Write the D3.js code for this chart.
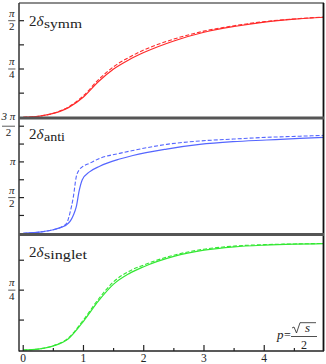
<!DOCTYPE html>
<html>
<head>
<meta charset="utf-8">
<script src="https://cdn.jsdelivr.net/npm/d3@7"></script>
<style>
  html, body { margin: 0; padding: 0; background: #fff; }
  svg { display: block; }
  text { font-family: "Liberation Serif", "DejaVu Serif", serif; fill: #222; }
</style>
</head>
<body>
<div id="chart"></div>
<script>
// phase shifts in units of pi, against p = sqrt(s)/2
var pGrid = [0, 0.25, 0.5, 0.75, 1, 1.25, 1.5, 1.75, 2, 2.5, 3, 3.5, 4, 4.5, 5];
var symmSolid  = [0, 0.005, 0.02, 0.05, 0.105, 0.185, 0.25, 0.297, 0.335, 0.395, 0.44, 0.47, 0.493, 0.508, 0.518];
var symmDashed = [0, 0.005, 0.021, 0.053, 0.112, 0.195, 0.262, 0.309, 0.348, 0.405, 0.446, 0.474, 0.495, 0.509, 0.519];

var antiP      = [0, 0.3, 0.5, 0.65, 0.72, 0.78, 0.83, 0.88, 0.93, 0.98, 1.1, 1.27, 1.6, 1.82, 2.38, 2.93, 3.48, 4.04, 4.59, 5];
var antiSolid  = [0, 0.02, 0.05, 0.09, 0.12, 0.17, 0.25, 0.37, 0.6, 0.75, 0.86, 0.94, 1.04, 1.09, 1.18, 1.245, 1.283, 1.307, 1.33, 1.345];
var antiDashed = [0, 0.02, 0.05, 0.095, 0.14, 0.3, 0.5, 0.79, 0.89, 0.93, 0.98, 1.05, 1.12, 1.16, 1.246, 1.293, 1.32, 1.344, 1.36, 1.372];

var singletSolid  = [0, 0.004, 0.017, 0.047, 0.12, 0.205, 0.275, 0.318, 0.348, 0.391, 0.417, 0.431, 0.438, 0.442, 0.444];
var singletDashed = [0, 0.004, 0.018, 0.05, 0.126, 0.213, 0.285, 0.328, 0.355, 0.396, 0.421, 0.434, 0.44, 0.443, 0.445];

var xMajor = [0, 1, 2, 3, 4];
var xMinor = [0.5, 1.5, 2.5, 3.5, 4.5];

var panels = [
    { name: 'symm', p: pGrid, solid: symmSolid, dashed: symmDashed, color: '#ff2a2a',
      top: 3, zero: 117.3, max: 0.5916,
      ticks: [0.125, 0.25, 0.375, 0.5],
      labels: [{v: 0.25, num: 'π', den: '4'}, {v: 0.5, num: 'π', den: '2'}],
      labelY: 26, subWidth: 38 },
    { name: 'anti', p: antiP, solid: antiSolid, dashed: antiDashed, color: '#5566ff',
      top: 118, zero: 233.3, max: 1.615,
      ticks: [0.25, 0.5, 0.75, 1, 1.25, 1.5],
      labels: [{v: 0.5, num: 'π', den: '2'}, {v: 1, num: 'π', den: null}, {v: 1.5, num: '3 π', den: '2'}],
      labelY: 139, subWidth: 21 },
    { name: 'singlet', p: pGrid, solid: singletSolid, dashed: singletDashed, color: '#33e833',
      top: 235, zero: 350, max: 0.4803,
      ticks: [0.125, 0.25, 0.375],
      labels: [{v: 0.25, num: 'π', den: '4'}],
      labelY: 256.5, subWidth: 43 }
];

var W = 326, H = 364;
var left = 19, right = 324, bottom = 351;

var svg = d3.select('#chart').append('svg')
    .attr('width', W)
    .attr('height', H);

var x = d3.scaleLinear().domain([-0.07, 5]).range([left, right + 0.5]);

panels.forEach(function (pan, i) {
    var y = d3.scaleLinear().domain([0, pan.max]).range([pan.zero, pan.top]);

    svg.append('clipPath')
        .attr('id', 'clip' + i)
        .append('rect')
        .attr('x', left)
        .attr('y', pan.top)
        .attr('width', right - left)
        .attr('height', pan.zero - pan.top + 1);

    var line = d3.line()
        .x(function (d) { return x(d[0]); })
        .y(function (d) { return y(d[1]); })
        .curve(d3.curveMonotoneX);

    var g = svg.append('g').attr('clip-path', 'url(#clip' + i + ')');
    g.append('path')
        .attr('d', line(d3.zip(pan.p, pan.dashed)))
        .attr('fill', 'none')
        .attr('stroke', pan.color)
        .attr('stroke-width', 1.1)
        .attr('stroke-dasharray', '4,2');
    g.append('path')
        .attr('d', line(d3.zip(pan.p, pan.solid)))
        .attr('fill', 'none')
        .attr('stroke', pan.color)
        .attr('stroke-width', 1.2);

    // y ticks (inward)
    svg.append('g').selectAll('line')
        .data(pan.ticks)
        .enter()
        .append('line')
        .attr('x1', left)
        .attr('x2', left + 5)
        .attr('y1', function (d) { return y(d); })
        .attr('y2', function (d) { return y(d); })
        .attr('stroke', '#222')
        .attr('stroke-width', 1.2);

    // fraction tick labels
    pan.labels.forEach(function (lb) {
        var ty = y(lb.v);
        var wide = lb.num.length > 1;
        var cx = wide ? 8.5 : 11.8;
        if (lb.den === null) {
            svg.append('text')
                .attr('x', cx + 1)
                .attr('y', ty + 3.5)
                .attr('text-anchor', 'middle')
                .style('font-size', '11px')
                .style('font-style', 'italic')
                .text(lb.num);
            return;
        }
        svg.append('text')
            .attr('x', cx)
            .attr('y', ty - (wide ? 6 : 4))
            .attr('text-anchor', 'middle')
            .style('font-size', '11px')
            .style('font-style', 'italic')
            .text(lb.num);
        svg.append('line')
            .attr('x1', cx - (wide ? 6.5 : 3.6))
            .attr('x2', cx + (wide ? 6.5 : 3.6))
            .attr('y1', ty)
            .attr('y2', ty)
            .attr('stroke', '#333')
            .attr('stroke-width', 0.8);
        svg.append('text')
            .attr('x', cx)
            .attr('y', ty + 9.5)
            .attr('text-anchor', 'middle')
            .style('font-size', '11px')
            .text(lb.den);
    });

    // panel name
    var t = svg.append('text')
        .attr('x', 29)
        .attr('y', pan.labelY)
        .style('font-size', '15px');
    t.append('tspan').text('2');
    t.append('tspan').style('font-style', 'italic').text('δ');
    svg.append('text')
        .attr('x', 44)
        .attr('y', pan.labelY + 2)
        .attr('textLength', pan.subWidth)
        .attr('lengthAdjust', 'spacingAndGlyphs')
        .style('font-size', '12px')
        .text(pan.name);
});

// frame
svg.append('line').attr('x1', left).attr('x2', right).attr('y1', 3).attr('y2', 3)
    .attr('stroke', '#666').attr('stroke-width', 1.5);
svg.append('line').attr('x1', right - 0.5).attr('x2', right - 0.5).attr('y1', 3).attr('y2', bottom)
    .attr('stroke', '#111').attr('stroke-width', 1.8);
svg.append('line').attr('x1', left).attr('x2', left).attr('y1', 3).attr('y2', bottom + 0.5)
    .attr('stroke', '#333').attr('stroke-width', 1.5);
[118, 234.5].forEach(function (sy) {
    svg.append('line').attr('x1', left).attr('x2', right).attr('y1', sy).attr('y2', sy)
        .attr('stroke', '#555').attr('stroke-width', 3);
});
svg.append('line').attr('x1', left).attr('x2', right).attr('y1', bottom).attr('y2', bottom)
    .attr('stroke', '#222').attr('stroke-width', 1.5);

// x ticks
svg.append('g').selectAll('line')
    .data(xMajor)
    .enter()
    .append('line')
    .attr('x1', function (d) { return x(d); })
    .attr('x2', function (d) { return x(d); })
    .attr('y1', bottom)
    .attr('y2', bottom - 6)
    .attr('stroke', '#222')
    .attr('stroke-width', 1.2);
svg.append('g').selectAll('line')
    .data(xMinor)
    .enter()
    .append('line')
    .attr('x1', function (d) { return x(d); })
    .attr('x2', function (d) { return x(d); })
    .attr('y1', bottom)
    .attr('y2', bottom - 3)
    .attr('stroke', '#222')
    .attr('stroke-width', 1.2);
svg.append('g').selectAll('text')
    .data(xMajor)
    .enter()
    .append('text')
    .attr('x', function (d) { return x(d); })
    .attr('y', 361.5)
    .attr('text-anchor', 'middle')
    .style('font-size', '11.5px')
    .text(function (d) { return d; });

// p = sqrt(s)/2
svg.append('text').attr('x', 277).attr('y', 339).style('font-size', '13px').style('font-style', 'italic').text('p');
svg.append('text').attr('x', 284).attr('y', 339).style('font-size', '12px').text('=');
svg.append('path')
    .attr('d', 'M292,328 L294,327 L296.5,333 L300,322.7 L316,322.7')
    .attr('fill', 'none')
    .attr('stroke', '#222')
    .attr('stroke-width', 0.8);
svg.append('text').attr('x', 305).attr('y', 332).style('font-size', '13px').style('font-style', 'italic').text('s');
svg.append('line').attr('x1', 291).attr('x2', 317).attr('y1', 336.5).attr('y2', 336.5)
    .attr('stroke', '#222').attr('stroke-width', 0.8);
svg.append('text').attr('x', 304).attr('y', 348.5).attr('text-anchor', 'middle').style('font-size', '12px').text('2');
</script>
</body>
</html>
